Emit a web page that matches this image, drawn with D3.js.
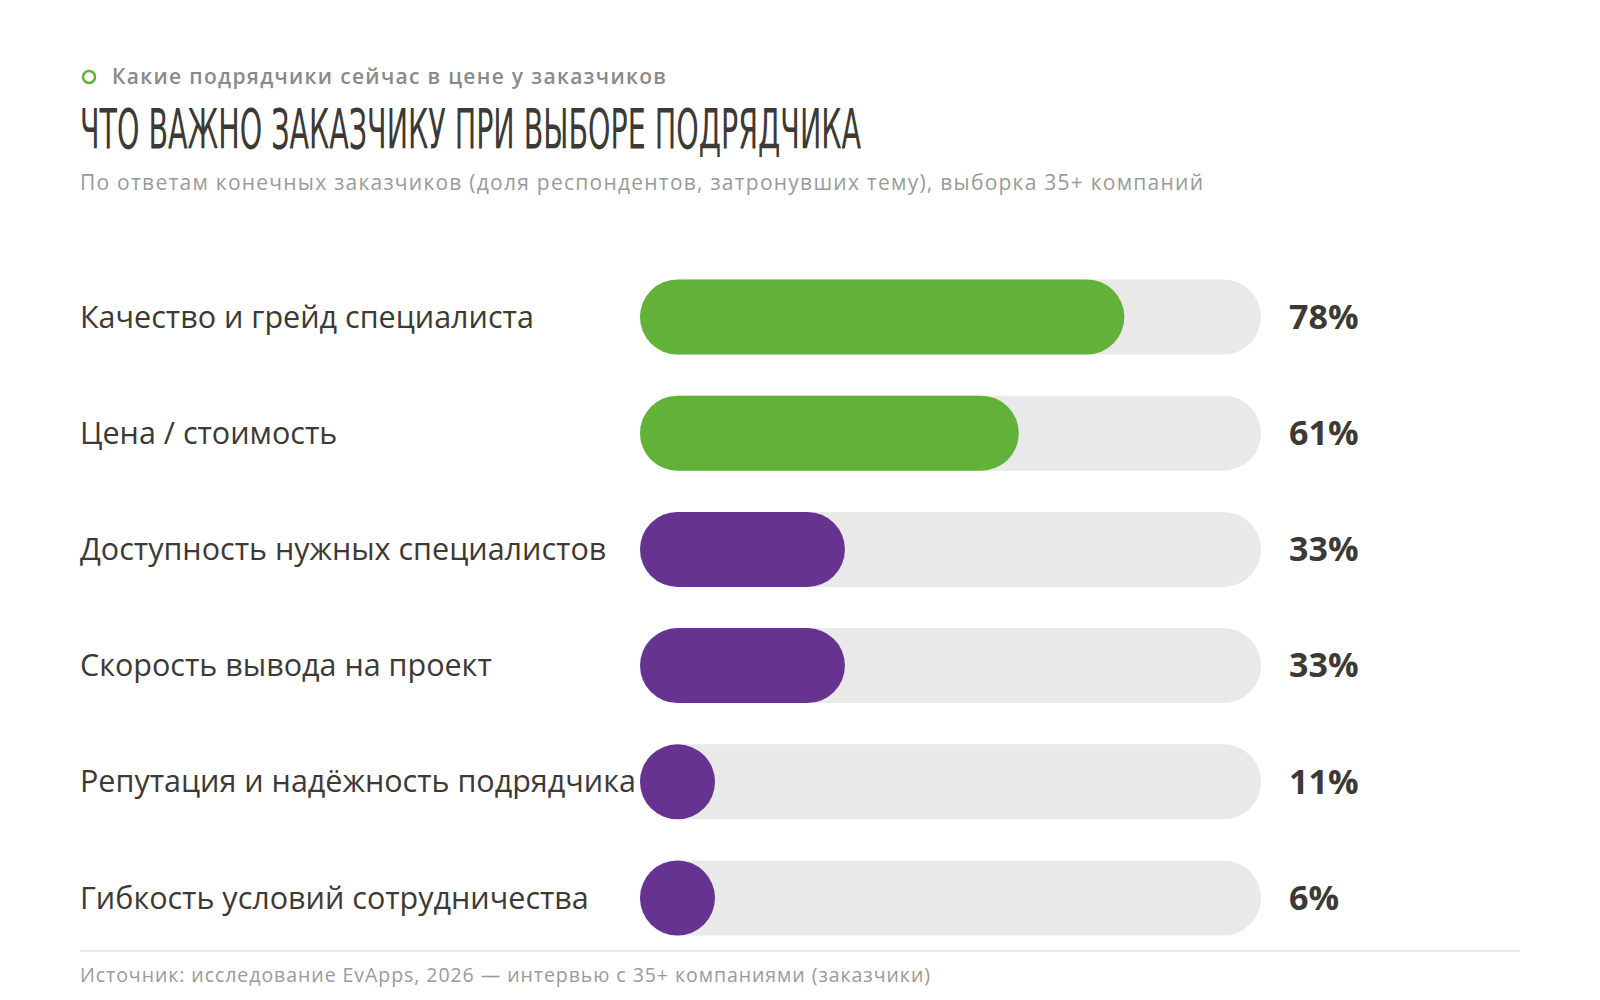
<!doctype html>
<html lang="ru">
<head>
<meta charset="UTF-8" />
<title>Что важно заказчику</title>
<script src="https://cdn.jsdelivr.net/npm/d3@7"></script>
<style>
  body { margin: 0; background: #fff; }
  svg { display: block; }
</style>
</head>
<body>
<div id="chart"></div>
<script>
// data
var categories = [
  "Качество и грейд специалиста",
  "Цена / стоимость",
  "Доступность нужных специалистов",
  "Скорость вывода на проект",
  "Репутация и надёжность подрядчика",
  "Гибкость условий сотрудничества"
];
var values = [78, 61, 33, 33, 11, 6];
var groups = ["top", "top", "other", "other", "other", "other"];

var width = 1600, height = 1000;
var ink = "#3d3935";

var svg = d3.select("#chart").append("svg")
    .attr("width", width)
    .attr("height", height);

// header
svg.append("circle")
    .attr("cx", 89).attr("cy", 77).attr("r", 6)
    .attr("fill", "none").attr("stroke", "#62b23a").attr("stroke-width", 2.5);

svg.append("text")
    .attr("x", 112).attr("y", 84)
    .attr("font-family", "Open Sans").attr("font-weight", 600)
    .attr("font-size", 21).attr("fill", "#8a8a8a")
    .attr("textLength", 554).attr("lengthAdjust", "spacing")
    .text("Какие подрядчики сейчас в цене у заказчиков");

svg.append("text")
    .attr("x", 80).attr("y", 148)
    .attr("font-family", "DejaVu Sans Condensed, DejaVu Sans").attr("font-stretch", "condensed")
    .attr("font-size", 56)
    .attr("textLength", 781).attr("lengthAdjust", "spacingAndGlyphs")
    .attr("fill", ink)
    .text("ЧТО ВАЖНО ЗАКАЗЧИКУ ПРИ ВЫБОРЕ ПОДРЯДЧИКА");

svg.append("text")
    .attr("x", 80).attr("y", 190)
    .attr("font-family", "Open Sans").attr("font-size", 21)
    .attr("fill", "#9a9a9a")
    .attr("textLength", 1123).attr("lengthAdjust", "spacing")
    .text("По ответам конечных заказчиков (доля респондентов, затронувших тему), выборка 35+ компаний");

// bars
var x = d3.scaleLinear().domain([0, 100]).range([640, 1261]);
var y = d3.scaleBand().domain(categories).range([279.5, 935.5]).paddingInner(0.3546).paddingOuter(0);
var color = d3.scaleOrdinal().domain(["top", "other"]).range(["#62b23a", "#663391"]);

var bh = y.bandwidth();
var rows = svg.append("g").selectAll("g")
    .data(categories)
    .enter().append("g")
    .attr("transform", function(d) { return "translate(0," + y(d) + ")"; });

rows.append("rect")
    .attr("x", x(0)).attr("y", 0)
    .attr("width", x(100) - x(0)).attr("height", bh)
    .attr("rx", bh / 2)
    .attr("fill", "#e9e9e9");

rows.append("rect")
    .attr("x", x(0)).attr("y", 0)
    .attr("width", function(d, i) { return Math.max(x(values[i]) - x(0), bh); })
    .attr("height", bh)
    .attr("rx", bh / 2)
    .attr("fill", function(d, i) { return color(groups[i]); });

rows.append("text")
    .attr("x", 80).attr("y", bh / 2)
    .attr("dy", "0.35em")
    .attr("font-family", "Open Sans").attr("font-size", 30.5)
    .attr("fill", ink)
    .text(function(d) { return d; });

rows.append("text")
    .attr("x", 1289).attr("y", bh / 2)
    .attr("dy", "0.35em")
    .attr("font-family", "Open Sans").attr("font-weight", 700).attr("font-size", 34)
    .attr("fill", ink)
    .text(function(d, i) { return values[i] + "%"; });

// footer
svg.append("line")
    .attr("x1", 80).attr("x2", 1520).attr("y1", 951).attr("y2", 951)
    .attr("stroke", "#e8e8e8").attr("stroke-width", 2);

svg.append("text")
    .attr("x", 80).attr("y", 982)
    .attr("font-family", "Open Sans").attr("font-size", 19.5)
    .attr("fill", "#9a9a9a")
    .attr("textLength", 850).attr("lengthAdjust", "spacing")
    .text("Источник: исследование EvApps, 2026 — интервью с 35+ компаниями (заказчики)");
</script>
</body>
</html>
